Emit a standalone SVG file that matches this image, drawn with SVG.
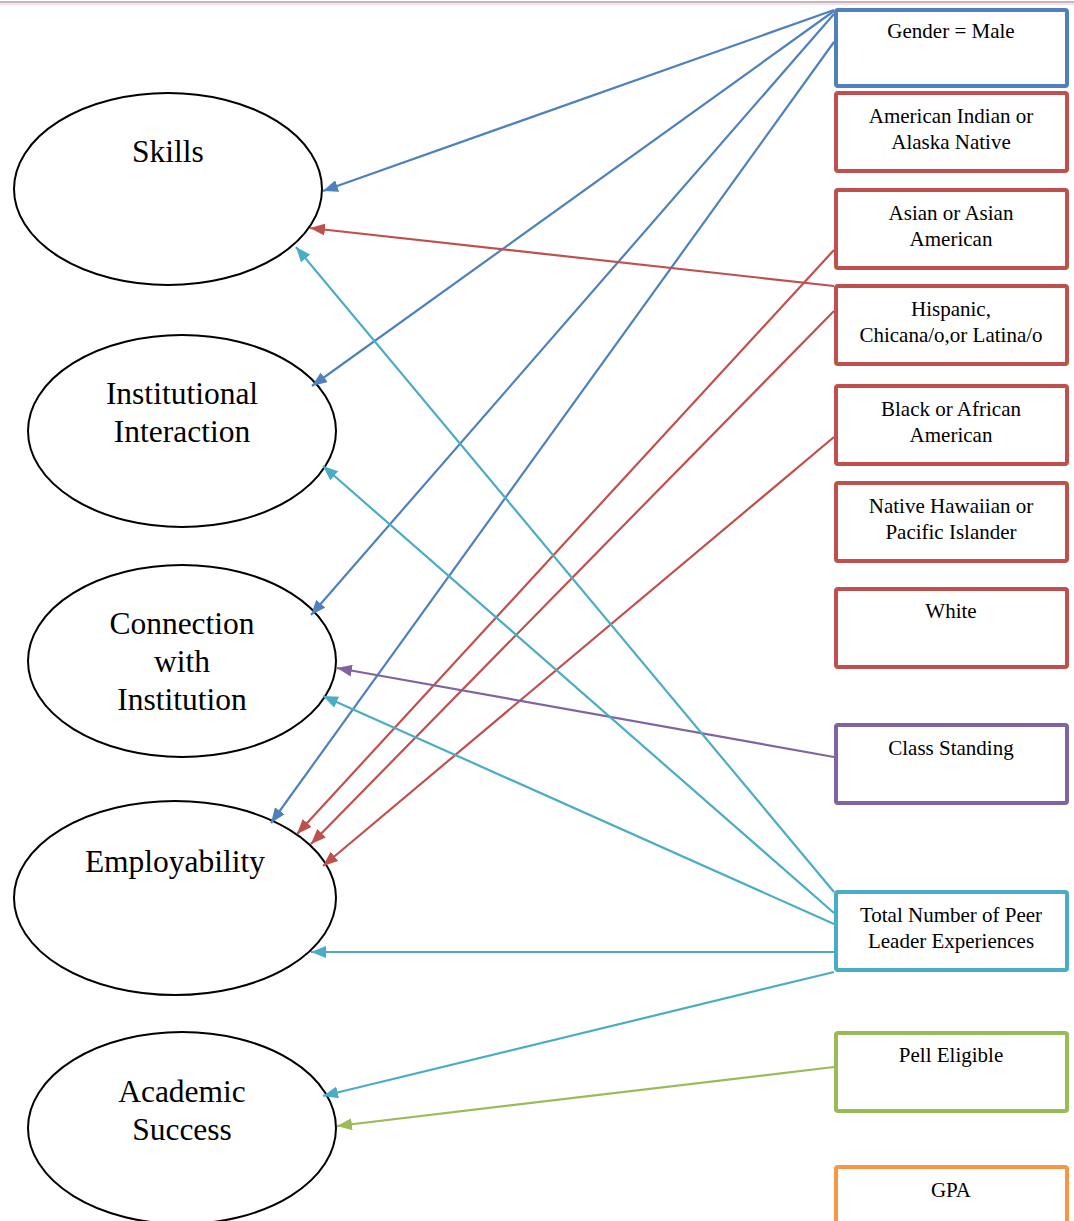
<svg xmlns="http://www.w3.org/2000/svg" width="1074" height="1221" viewBox="0 0 1074 1221">
<style>
.ell{fill:#fff;stroke:#000;stroke-width:2}
.et{font-family:"Liberation Serif","Times New Roman",serif;font-size:31.5px;text-anchor:middle;fill:#000}
.bx{fill:#fff;stroke-width:4}
.bt{font-family:"Liberation Serif","Times New Roman",serif;font-size:21px;text-anchor:middle;fill:#000}
.c line{stroke-width:2.2;fill:none}
.blue{stroke:#4F81BD}.red{stroke:#C0504D}.pur{stroke:#8064A2}.teal{stroke:#4BACC6}.grn{stroke:#9BBB59}.org{stroke:#F79646}
</style>
<defs>
<marker id="mb" markerUnits="userSpaceOnUse" markerWidth="16" markerHeight="12" refX="15" refY="6" orient="auto"><path d="M0,0 L15,6 L0,12 z" fill="#4F81BD"/></marker>
<marker id="mr" markerUnits="userSpaceOnUse" markerWidth="16" markerHeight="12" refX="15" refY="6" orient="auto"><path d="M0,0 L15,6 L0,12 z" fill="#C0504D"/></marker>
<marker id="mp" markerUnits="userSpaceOnUse" markerWidth="16" markerHeight="12" refX="15" refY="6" orient="auto"><path d="M0,0 L15,6 L0,12 z" fill="#8064A2"/></marker>
<marker id="mt" markerUnits="userSpaceOnUse" markerWidth="16" markerHeight="12" refX="15" refY="6" orient="auto"><path d="M0,0 L15,6 L0,12 z" fill="#4BACC6"/></marker>
<marker id="mg" markerUnits="userSpaceOnUse" markerWidth="16" markerHeight="12" refX="15" refY="6" orient="auto"><path d="M0,0 L15,6 L0,12 z" fill="#9BBB59"/></marker>
</defs>
<rect x="0" y="0" width="1074" height="1221" fill="#fff"/>
<line x1="0" y1="2" x2="1074" y2="2" stroke="#cfb0be" stroke-width="2"/>
<line x1="0" y1="4" x2="1074" y2="4" stroke="#f3e3ea" stroke-width="2"/>

<g id="skills"><ellipse class="ell" cx="168" cy="189" rx="154" ry="96"/><text class="et" x="168" y="162">Skills</text></g>
<g id="institutional-interaction"><ellipse class="ell" cx="182" cy="431" rx="154" ry="96"/><text class="et" x="182" y="404">Institutional</text><text class="et" x="182" y="442">Interaction</text></g>
<g id="connection-with-institution"><ellipse class="ell" cx="182" cy="661" rx="154" ry="96"/><text class="et" x="182" y="634">Connection</text><text class="et" x="182" y="672">with</text><text class="et" x="182" y="710">Institution</text></g>
<g id="employability"><ellipse class="ell" cx="175" cy="898" rx="161" ry="97"/><text class="et" x="175" y="872">Employability</text></g>
<g id="academic-success"><ellipse class="ell" cx="182" cy="1128" rx="154" ry="96"/><text class="et" x="182" y="1102">Academic</text><text class="et" x="182" y="1140">Success</text></g>

<g id="gender"><rect class="bx blue" x="836" y="10" width="231" height="76" rx="2"/><text class="bt" x="951" y="38">Gender = Male</text></g>
<g id="american-indian"><rect class="bx red" x="836" y="93" width="231" height="78" rx="2"/><text class="bt" x="951" y="123">American Indian or</text><text class="bt" x="951" y="149">Alaska Native</text></g>
<g id="asian"><rect class="bx red" x="836" y="190" width="231" height="78" rx="2"/><text class="bt" x="951" y="220">Asian or Asian</text><text class="bt" x="951" y="246">American</text></g>
<g id="hispanic"><rect class="bx red" x="836" y="286" width="231" height="78" rx="2"/><text class="bt" x="951" y="316">Hispanic,</text><text class="bt" x="951" y="342">Chicana/o,or Latina/o</text></g>
<g id="black"><rect class="bx red" x="836" y="386" width="231" height="78" rx="2"/><text class="bt" x="951" y="416">Black or African</text><text class="bt" x="951" y="442">American</text></g>
<g id="native-hawaiian"><rect class="bx red" x="836" y="483" width="231" height="78" rx="2"/><text class="bt" x="951" y="513">Native Hawaiian or</text><text class="bt" x="951" y="539">Pacific Islander</text></g>
<g id="white"><rect class="bx red" x="836" y="589" width="231" height="78" rx="2"/><text class="bt" x="951" y="618">White</text></g>
<g id="class-standing"><rect class="bx pur" x="836" y="725" width="231" height="78" rx="2"/><text class="bt" x="951" y="755">Class Standing</text></g>
<g id="peer-leader"><rect class="bx teal" x="836" y="892" width="231" height="78" rx="2"/><text class="bt" x="951" y="922">Total Number of Peer</text><text class="bt" x="951" y="948">Leader Experiences</text></g>
<g id="pell"><rect class="bx grn" x="836" y="1033" width="231" height="78" rx="2"/><text class="bt" x="951" y="1062">Pell Eligible</text></g>
<g id="gpa"><rect class="bx org" x="836" y="1167" width="231" height="78" rx="2"/><text class="bt" x="951" y="1197">GPA</text></g>

<g id="connectors" class="c">
<line class="blue" x1="834" y1="10" x2="323" y2="191" marker-end="url(#mb)"/>
<line class="blue" x1="834" y1="11" x2="312" y2="386" marker-end="url(#mb)"/>
<line class="blue" x1="834" y1="14" x2="311" y2="615" marker-end="url(#mb)"/>
<line class="blue" x1="834" y1="42" x2="271" y2="823" marker-end="url(#mb)"/>
<line class="red" x1="834" y1="286" x2="310" y2="228" marker-end="url(#mr)"/>
<line class="red" x1="834" y1="250" x2="297" y2="834" marker-end="url(#mr)"/>
<line class="red" x1="834" y1="311" x2="311" y2="844" marker-end="url(#mr)"/>
<line class="red" x1="834" y1="437" x2="323" y2="866" marker-end="url(#mr)"/>
<line class="pur" x1="834" y1="757" x2="337" y2="668" marker-end="url(#mp)"/>
<line class="teal" x1="834" y1="892" x2="296" y2="247" marker-end="url(#mt)"/>
<line class="teal" x1="834" y1="913" x2="323" y2="466" marker-end="url(#mt)"/>
<line class="teal" x1="834" y1="924" x2="323" y2="696" marker-end="url(#mt)"/>
<line class="teal" x1="834" y1="952" x2="311" y2="952" marker-end="url(#mt)"/>
<line class="teal" x1="834" y1="972" x2="323" y2="1096" marker-end="url(#mt)"/>
<line class="grn" x1="834" y1="1067" x2="337" y2="1126" marker-end="url(#mg)"/>
</g>
</svg>
